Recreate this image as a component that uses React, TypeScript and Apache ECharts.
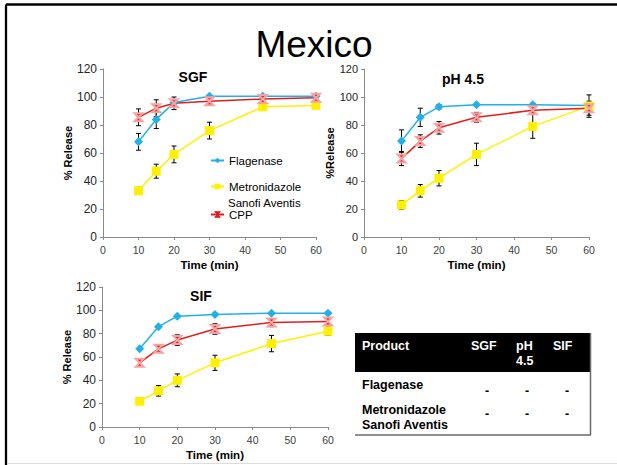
import React, { useEffect, useRef } from 'react';
import * as echarts from 'echarts';

const times = [10, 15, 20, 30, 45, 60];
const seriesNames = ['Flagenase', 'Metronidazole Sanofi Aventis', 'CPP'];
const legendLines = ['Metronidazole', 'Sanofi Aventis'];
const panelTitles = ['SGF', 'pH 4.5', 'SIF'];
const yAxisNames = ['% Release', '%Release', '% Release'];
const xAxisName = 'Time (min)';
const mainTitle = 'Mexico';

// SGF
const sgfFlagenase = [68, 84, 96, 100.5, 100.5, 100.5];
const sgfFlagenaseErr = [6, 6.5, 1.5, 1, 1, 1];
const sgfMetro = [33, 47, 59, 76, 93, 94];
const sgfMetroErr = [2.5, 5, 6, 6, 1.5, 1.5];
const sgfCpp = [85.5, 92, 95.5, 97, 98.5, 99.5];
const sgfCppErr = [6, 6, 4.5, 2, 2, 2];

// pH 4.5
const phFlagenase = [68.5, 85.5, 93, 94.5, 94.5, 94];
const phFlagenaseErr = [8, 6.5, 1.5, 1, 1, 1];
const phMetro = [23, 33, 42, 59, 79, 93.5];
const phMetroErr = [3, 4.5, 5.5, 8, 8.5, 8];
const phCpp = [56, 68.5, 78, 85.5, 90.5, 92];
const phCppErr = [5, 4.5, 4.5, 3.5, 2, 5];

// SIF
const sifFlagenase = [67, 86, 95, 96.5, 97.5, 97.5];
const sifFlagenaseErr = [1, 1, 1, 1, 1, 1];
const sifMetro = [22, 31, 40, 55, 71.5, 82];
const sifMetroErr = [2, 4.5, 5.5, 6.5, 7, 3.5];
const sifCpp = [55, 67, 74.5, 84, 89.5, 90.5];
const sifCppErr = [2, 3, 4.5, 4.5, 3.5, 3];

// table
const tableHeader = ['Product', 'SGF', 'pH\n4.5', 'SIF'];
const tableRows = [
  ['Flagenase', '-', '-', '-'],
  ['Metronidazole\nSanofi Aventis', '-', '-', '-'],
];

const panelData = [
  [[sgfFlagenase, sgfFlagenaseErr], [sgfMetro, sgfMetroErr], [sgfCpp, sgfCppErr]],
  [[phFlagenase, phFlagenaseErr], [phMetro, phMetroErr], [phCpp, phCppErr]],
  [[sifFlagenase, sifFlagenaseErr], [sifMetro, sifMetroErr], [sifCpp, sifCppErr]],
];

const FONT = '"Liberation Sans", Arial, sans-serif';
const COLORS = ['#22B0E6', '#FFF000', '#E41E1E'];
const CPP_SYMBOL = 'path://M0,0L10,0L0,10L10,10Z';

export default function App() {
  const ref = useRef<HTMLDivElement>(null);
  useEffect(() => {
    const chart = echarts.init(ref.current!, null, { renderer: 'svg' });

    const grids = [
      { left: 103, top: 69, width: 213, height: 168 },
      { left: 364, top: 69, width: 225, height: 168 },
      { left: 102, top: 287, width: 226, height: 140 },
    ];
    const yLabelSize = [12, 11, 12];
    const yNameGap = [22, 20, 22];

    const xAxes = grids.map((_, i) => ({
      type: 'value', gridIndex: i, min: 0, max: 60, interval: 10,
      name: xAxisName, nameLocation: 'middle', nameGap: 22,
      nameTextStyle: { fontFamily: FONT, fontWeight: 'bold', fontSize: 11.5, color: '#000' },
      axisLine: { lineStyle: { color: '#8a8a8a', width: 1 } },
      axisTick: { show: true, length: 3, lineStyle: { color: '#8a8a8a' } },
      axisLabel: { fontFamily: FONT, fontSize: 10.5, color: '#404040', margin: 7 },
      splitLine: { show: false },
    }));
    const yAxes = grids.map((_, i) => ({
      type: 'value', gridIndex: i, min: 0, max: 120, interval: 20,
      name: yAxisNames[i], nameLocation: 'middle', nameGap: yNameGap[i],
      nameTextStyle: { fontFamily: FONT, fontWeight: 'bold', fontSize: 11, color: '#000' },
      axisLine: { show: true, lineStyle: { color: '#8a8a8a', width: 1 } },
      axisTick: { show: true, length: 3, lineStyle: { color: '#8a8a8a' } },
      axisLabel: { fontFamily: FONT, fontSize: yLabelSize[i], color: '#262626', margin: 6 },
      splitLine: { show: false },
    }));

    const series: any[] = [];
    panelData.forEach((panel, g) => {
      panel.forEach(([vals, errs], s) => {
        series.push({
          type: 'custom', xAxisIndex: g, yAxisIndex: g, z: 1, silent: true,
          data: times.map((t, i) => [t, vals[i], errs[i]]),
          renderItem: (params: any, api: any) => {
            const x = api.value(0), v = api.value(1), e = api.value(2);
            const top = api.coord([x, v + e]);
            const bot = api.coord([x, v - e]);
            const w = 2.5;
            const st = { stroke: '#000', lineWidth: 1 };
            return {
              type: 'group', children: [
                { type: 'line', shape: { x1: top[0], y1: top[1], x2: bot[0], y2: bot[1] }, style: st },
                { type: 'line', shape: { x1: top[0] - w, y1: top[1], x2: top[0] + w, y2: top[1] }, style: st },
                { type: 'line', shape: { x1: bot[0] - w, y1: bot[1], x2: bot[0] + w, y2: bot[1] }, style: st },
              ],
            };
          },
        });
        const base: any = {
          name: seriesNames[s], type: 'line', xAxisIndex: g, yAxisIndex: g, z: 3,
          data: times.map((t, i) => [t, vals[i]]),
          lineStyle: { color: COLORS[s], width: 1.5 },
          itemStyle: { color: COLORS[s] },
          showSymbol: true,
        };
        if (s === 0) { base.symbol = 'diamond'; base.symbolSize = 9; }
        if (s === 1) { base.symbol = 'rect'; base.symbolSize = 9; }
        if (s === 2) {
          base.symbol = CPP_SYMBOL; base.symbolSize = 8;
          base.itemStyle = { color: '#E41E1E', borderColor: '#F4A4A4', borderWidth: 2 };
        }
        series.push(base);
      });
    });

    const legendCommon = {
      left: 210, orient: 'vertical', padding: 0, itemWidth: 13, itemHeight: 7,
      textStyle: { fontFamily: FONT, fontSize: 11.5, color: '#000' },
      selectedMode: false,
    };

    const graphic: any[] = [
      { type: 'line', shape: { x1: 6, y1: 4.5, x2: 617, y2: 4.5 }, style: { stroke: '#000', lineWidth: 2.3 } },
      { type: 'line', shape: { x1: 6, y1: 4.5, x2: 6, y2: 465 }, style: { stroke: '#000', lineWidth: 2.3 } },
      { type: 'line', shape: { x1: 7, y1: 463.5, x2: 617, y2: 463.5 }, style: { stroke: '#dcdcdc', lineWidth: 1 } },
      { type: 'text', x: 314, y: 44, style: { text: mainTitle, fontFamily: FONT, fontSize: 37, fill: '#000', textAlign: 'center', textVerticalAlign: 'middle' } },
      { type: 'text', x: 193, y: 77, style: { text: panelTitles[0], fontFamily: FONT, fontWeight: 'bold', fontSize: 14, fill: '#000', textAlign: 'center', textVerticalAlign: 'middle' } },
      { type: 'text', x: 463, y: 79, style: { text: panelTitles[1], fontFamily: FONT, fontWeight: 'bold', fontSize: 14, fill: '#000', textAlign: 'center', textVerticalAlign: 'middle' } },
      { type: 'text', x: 201, y: 295.5, style: { text: panelTitles[2], fontFamily: FONT, fontWeight: 'bold', fontSize: 14, fill: '#000', textAlign: 'center', textVerticalAlign: 'middle' } },
      // second line of the Metronidazole legend entry
      { type: 'text', x: 228, y: 203, style: { text: legendLines[1], fontFamily: FONT, fontSize: 11.5, fill: '#000', textAlign: 'left', textVerticalAlign: 'middle' } },
      // table
      { type: 'rect', shape: { x: 355, y: 333, width: 236, height: 39 }, style: { fill: '#000' } },
      { type: 'line', shape: { x1: 590.5, y1: 333, x2: 590.5, y2: 435 }, style: { stroke: '#6a6a6a', lineWidth: 1.5 } },
      { type: 'line', shape: { x1: 355, y1: 435, x2: 591, y2: 435 }, style: { stroke: '#6a6a6a', lineWidth: 1.5 } },
    ];
    const colX = [362, 471, 516, 553];
    const tStyle = (text: string, x: number, y: number, fill: string) => ({
      type: 'text', x, y,
      style: { text, fontFamily: FONT, fontWeight: 'bold', fontSize: 12.5, lineHeight: 15, fill, textAlign: 'left', textVerticalAlign: 'top' },
    });
    tableHeader.forEach((h, i) => graphic.push(tStyle(h, colX[i], 338, '#fff')));
    graphic.push(tStyle(tableRows[0][0], colX[0], 377, '#000'));
    graphic.push(tStyle(tableRows[1][0], colX[0], 402, '#000'));
    const dashX = [487, 527, 567];
    [[384, tableRows[0]], [407, tableRows[1]]].forEach(([y, row]: any) => {
      for (let k = 1; k < 4; k++) {
        graphic.push({
          type: 'text', x: dashX[k - 1], y,
          style: { text: row[k], fontFamily: FONT, fontWeight: 'bold', fontSize: 12.5, fill: '#000', textAlign: 'center', textVerticalAlign: 'top' },
        });
      }
    });

    chart.setOption({
      animation: false,
      backgroundColor: '#fff',
      grid: grids,
      xAxis: xAxes,
      yAxis: yAxes,
      legend: [
        { ...legendCommon, top: 154.5, data: [seriesNames[0]] },
        { ...legendCommon, top: 180.5, data: [seriesNames[1]], formatter: () => legendLines[0] },
        {
          ...legendCommon, top: 208.5,
          data: [{ name: seriesNames[2], itemStyle: { color: '#E41E1E', borderColor: '#E41E1E', borderWidth: 1 } }],
        },
      ],
      series,
      graphic,
    });
    return () => chart.dispose();
  }, []);
  return <div ref={ref} style={{ position: 'absolute', left: 0, top: 0, width: 617, height: 465 }} />;
}
